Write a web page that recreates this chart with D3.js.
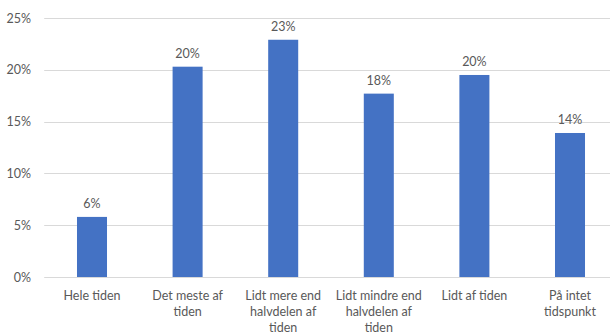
<!DOCTYPE html>
<html><head><meta charset="utf-8">
<script src="https://cdn.jsdelivr.net/npm/d3@7"></script>
<style>body{margin:0;background:#fff}svg{display:block}</style>
</head><body>
<svg id="c" width="610" height="333"></svg>
<script>
const categories = ["Hele tiden", "Det meste af\ntiden", "Lidt mere end\nhalvdelen af\ntiden", "Lidt mindre end\nhalvdelen af\ntiden", "Lidt af tiden", "På intet\ntidspunkt"];
const values = [5.8, 20.3, 22.9, 17.7, 19.5, 13.9];
const valueLabels = ["6%", "20%", "23%", "18%", "20%", "14%"];
const yTicks = [0, 5, 10, 15, 20, 25];

(function () {
const svg = d3.select("#c");
const font = "Lato, 'Open Sans', sans-serif";
const textColor = "#595959";
const mLeft = 44.2, mRight = 617.8, mTop = 18, mBottom = 277;

const x = d3.scaleBand().domain(categories).range([mLeft, mRight]).paddingInner(0.686).paddingOuter(0.343);
const y = d3.scaleLinear().domain([0, 25]).range([mBottom, mTop]);

// gridlines
svg.append("g").selectAll("line").data(yTicks).join("line")
  .attr("x1", mLeft).attr("x2", 610)
  .attr("y1", d => Math.round(y(d)) + 0.5).attr("y2", d => Math.round(y(d)) + 0.5)
  .attr("stroke", "#d9d9d9").attr("stroke-width", 1);

// y axis labels
const yAxis = d3.axisLeft(y).tickValues(yTicks).tickFormat(d => d + "%").tickSize(0).tickPadding(0);
const ga = svg.append("g").attr("transform", `translate(31,0)`).call(yAxis);
ga.select(".domain").remove();
ga.selectAll("text").attr("font-family", font).attr("font-size", "12.5px").attr("fill", textColor);

// bars
svg.append("g").selectAll("rect").data(values).join("rect")
  .attr("x", (d, i) => x(categories[i]))
  .attr("width", x.bandwidth())
  .attr("y", d => y(d))
  .attr("height", d => y(0) - y(d))
  .attr("fill", "#4472c4");

// value labels
svg.append("g").selectAll("text").data(values).join("text")
  .attr("x", (d, i) => x(categories[i]) + x.bandwidth() / 2)
  .attr("y", d => y(d) - 9)
  .attr("text-anchor", "middle")
  .attr("font-family", font).attr("font-size", "12.5px").attr("fill", textColor)
  .text((d, i) => valueLabels[i]);

// category labels
const cg = svg.append("g").selectAll("text").data(categories).join("text")
  .attr("x", d => x(d) + x.bandwidth() / 2)
  .attr("y", 300)
  .attr("text-anchor", "middle")
  .attr("font-family", font).attr("font-size", "12.5px").attr("fill", textColor);
cg.each(function(d) {
  const t = d3.select(this);
  d.split("\n").forEach((line, i) => {
    t.append("tspan").attr("x", x(d) + x.bandwidth() / 2).attr("dy", i === 0 ? 0 : 16).text(line);
  });
});
})();
</script>
</body></html>
